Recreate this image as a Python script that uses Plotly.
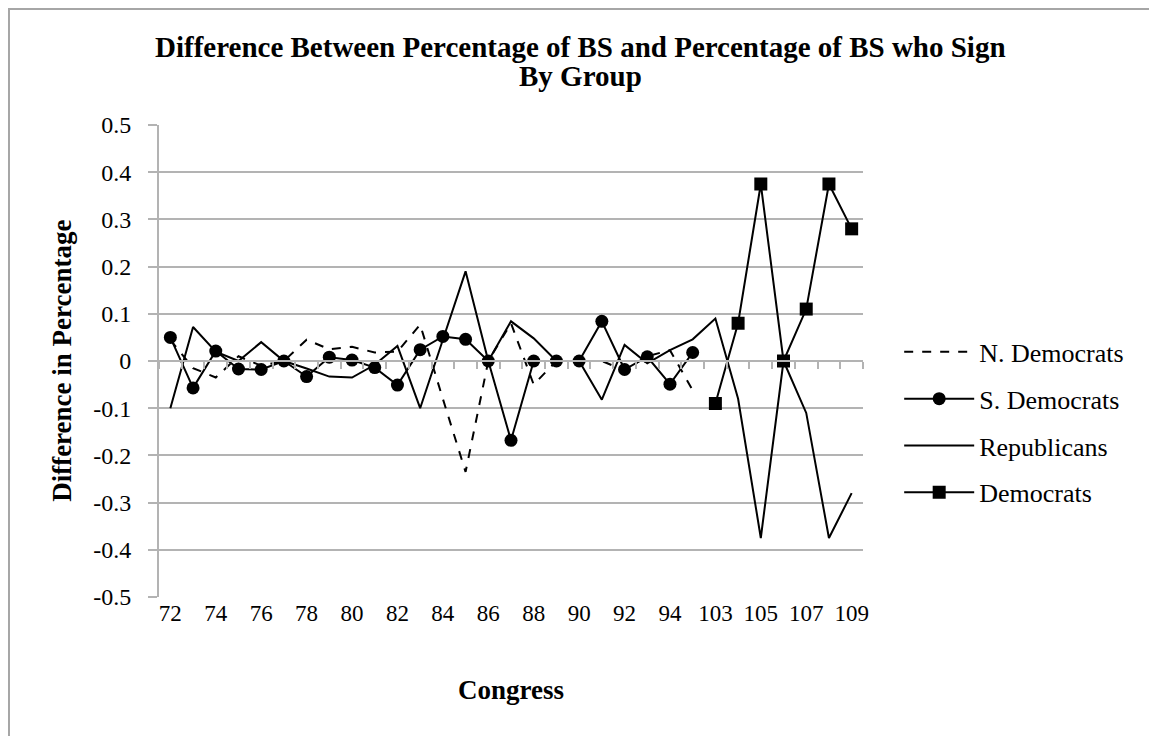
import plotly.graph_objects as go

# Congress sessions on the category axis (gap between 95 and 103 is not drawn)
CONGRESS = ["72", "73", "74", "75", "76", "77", "78", "79", "80", "81", "82", "83",
            "84", "85", "86", "87", "88", "89", "90", "91", "92", "93", "94", "95",
            "103", "104", "105", "106", "107", "108", "109"]

N_DEM = [0.045, -0.015, -0.035, 0.01, -0.01, 0.0, 0.045, 0.025, 0.03, 0.018, 0.02, 0.077,
         -0.08, -0.235, 0.0, 0.08, -0.05, 0.0, 0.0, 0.0, -0.02, 0.01, 0.023, -0.062,
         None, None, None, None, None, None, None]
S_DEM = [0.05, -0.057, 0.021, -0.017, -0.018, 0.0, -0.033, 0.008, 0.002, -0.014, -0.051, 0.024,
         0.052, 0.046, 0.0, -0.168, 0.0, 0.0, 0.0, 0.084, -0.018, 0.009, -0.049, 0.018,
         None, None, None, None, None, None, None]
REP = [-0.1, 0.072, 0.02, 0.0, 0.04, 0.0, -0.016, -0.033, -0.035, -0.008, 0.032, -0.1,
       0.045, 0.19, 0.0, 0.084, 0.048, 0.0, 0.0, -0.082, 0.034, -0.005, 0.023, 0.046,
       0.09, -0.08, -0.375, 0.0, -0.11, -0.375, -0.28]
DEM = [None] * 24 + [-0.09, 0.08, 0.375, 0.0, 0.11, 0.375, 0.28]

Y_TICKS = [0.5, 0.4, 0.3, 0.2, 0.1, 0.0, -0.1, -0.2, -0.3, -0.4, -0.5]
Y_LABELS = ["0.5", "0.4", "0.3", "0.2", "0.1", "0", "-0.1", "-0.2", "-0.3", "-0.4", "-0.5"]

TITLE_1 = "Difference Between Percentage of BS and Percentage of BS who Sign"
TITLE_2 = "By Group"

FONT = "Times New Roman, Liberation Serif, serif"
GRID = "#b3b3b3"

fig = go.Figure()

series = [
    ("N. Democrats", N_DEM, dict(dash="dash"), None),
    ("S. Democrats", S_DEM, dict(), dict(symbol="circle", size=13)),
    ("Republicans", REP, dict(), None),
    ("Democrats", DEM, dict(), dict(symbol="square", size=13)),
]
for i, (name, vals, dash, marker) in enumerate(series):
    fig.add_trace(go.Scatter(
        x=CONGRESS,
        y=vals,
        name=name,
        legendgroup=f"g{i}",
        mode="lines+markers" if marker else "lines",
        line=dict(color="black", width=2, **dash),
        marker=dict(color="black", **(marker or {})),
        connectgaps=False,
    ))

# invisible helper trace so the zero-line category axis (with boundary ticks) is drawn
fig.add_trace(go.Scatter(x=CONGRESS, y=[0] * len(CONGRESS), xaxis="x2",
                         mode="lines", line=dict(width=0), opacity=0,
                         showlegend=False, hoverinfo="skip"))

fig.update_layout(
    width=1157,
    height=736,
    paper_bgcolor="white",
    plot_bgcolor="white",
    font=dict(family=FONT, color="black", size=24),
    margin=dict(l=151, r=302, t=117, b=147),
    xaxis=dict(
        type="category",
        categoryorder="array",
        categoryarray=CONGRESS,
        range=[-0.5, len(CONGRESS) - 0.5],
        tickmode="array",
        tickvals=CONGRESS[::2],
        ticktext=CONGRESS[::2],
        showgrid=False,
        zeroline=False,
        showline=False,
        ticks="",
        tickfont=dict(size=23),
    ),
    xaxis2=dict(
        type="category",
        categoryorder="array",
        categoryarray=CONGRESS,
        overlaying="x",
        matches="x",
        anchor="free",
        position=0.5,
        side="bottom",
        showline=True,
        linecolor=GRID,
        linewidth=2,
        ticks="outside",
        tickson="boundaries",
        ticklen=7,
        tickwidth=1.5,
        tickcolor=GRID,
        dtick=1,
        showticklabels=False,
        showgrid=False,
    ),
    yaxis=dict(
        range=[-0.5, 0.5],
        tickmode="array",
        tickvals=Y_TICKS,
        ticktext=Y_LABELS,
        showgrid=True,
        gridcolor=GRID,
        gridwidth=2,
        zeroline=False,
        showline=True,
        linecolor=GRID,
        linewidth=2,
        ticks="outside",
        ticklen=9,
        tickcolor=GRID,
        tickwidth=2,
        ticklabelstandoff=12,
        tickfont=dict(size=24),
    ),
    legend=dict(
        x=1.0514, y=0.569, xanchor="left", yanchor="top",
        font=dict(size=26),
        tracegroupgap=10,
        bgcolor="rgba(0,0,0,0)",
        itemwidth=70,
    ),
    annotations=[
        dict(text=f"<b>{TITLE_1}</b>", xref="paper", yref="paper",
             x=0.599, y=1.165, showarrow=False, xanchor="center", yanchor="middle",
             font=dict(size=29, family=FONT)),
        dict(text=f"<b>{TITLE_2}</b>", xref="paper", yref="paper",
             x=0.599, y=1.104, showarrow=False, xanchor="center", yanchor="middle",
             font=dict(size=29, family=FONT)),
        dict(text="<b>Difference in Percentage</b>", xref="paper", yref="paper",
             x=-0.138, y=0.5, textangle=-90, showarrow=False,
             xanchor="center", yanchor="middle",
             font=dict(size=27, family=FONT)),
        dict(text="<b>Congress</b>", xref="paper", yref="paper",
             x=0.5, y=-0.197, showarrow=False, xanchor="center", yanchor="middle",
             font=dict(size=27, family=FONT)),
    ],
    shapes=[
        dict(type="rect", xref="paper", yref="paper",
             x0=-0.2131, x1=1.409, y0=-0.32, y1=1.2458,
             line=dict(color="#a6a6a6", width=2)),
    ],
)

fig.write_html("out.html")
